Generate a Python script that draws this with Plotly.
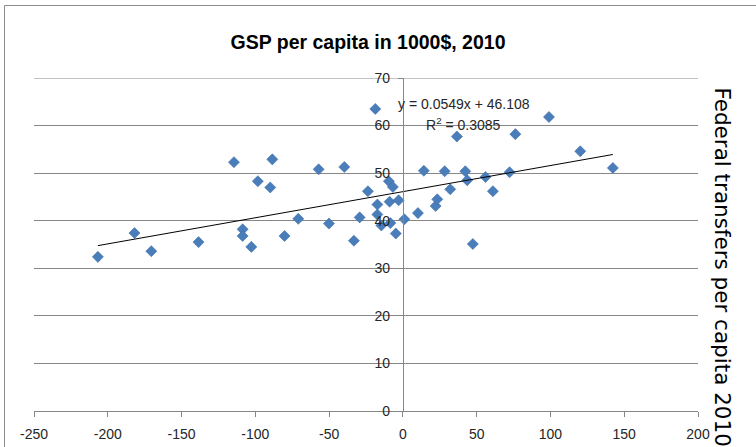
import plotly.graph_objects as go

# GSP per capita deviation (x) vs federal transfers per capita (y)
gsp = [-206.7, -181.9, -170.5, -138.5, -114.5, -108.6, -108.6, -102.7, -98.3, -89.9,
       -88.5, -80.2, -70.9, -57.1, -50.1, -39.7, -33.2, -29.3, -23.7, -18.7,
       -17.3, -17.3, -14.6, -9.5, -6.8, -9.0, -2.9, -8.5, -4.8, 1.0,
       10.2, 14.2, 22.2, 23.3, 28.3, 32.1, 36.6, 42.3, 43.6, 47.4,
       56.0, 61.0, 72.3, 76.2, 99.0, 120.2, 142.3]
transfers = [32.4, 37.4, 33.6, 35.5, 52.3, 38.2, 36.8, 34.5, 48.3, 47.0,
             52.9, 36.8, 40.4, 50.8, 39.4, 51.3, 35.8, 40.7, 46.2, 63.5,
             43.4, 41.3, 39.0, 48.3, 47.1, 44.0, 44.3, 39.5, 37.3, 40.3,
             41.6, 50.5, 43.1, 44.5, 50.4, 46.6, 57.7, 50.4, 48.5, 35.1,
             49.2, 46.2, 50.2, 58.2, 61.8, 54.6, 51.1]

slope = 0.0549
intercept = 46.108
r_squared = 0.3085

x_ticks = [-250, -200, -150, -100, -50, 0, 50, 100, 150, 200]
y_ticks = [0, 10, 20, 30, 40, 50, 60, 70]

title_text = "GSP per capita in 1000$, 2010"
ytitle_text = "Federal transfers per capita 2010"

X_RANGE = [-250, 200]
Y_RANGE = [0, 70]

W, H = 756, 447
ML, MR, MT, MB = 34, 58, 78, 36
PW, PH = W - ML - MR, H - MT - MB

def px_x(p):
    return (p - ML) / PW

def px_y(p):
    return (H - MB - p) / PH

FONT = "Liberation Sans, Arial, sans-serif"
GRID = "#878787"
TXT = "#262626"

fig = go.Figure()

fig.add_trace(go.Scatter(
    x=gsp, y=transfers, mode="markers",
    marker=dict(symbol="diamond", size=8.5, color="#4A7EBB",
                line=dict(width=0.6, color="#3F6FA8")),
    showlegend=False, hoverinfo="x+y"))

tx = [min(gsp), max(gsp)]
ty = [slope * v + intercept for v in tx]
fig.add_trace(go.Scatter(x=tx, y=ty, mode="lines",
                         line=dict(color="black", width=1),
                         showlegend=False, hoverinfo="skip"))

fig.update_layout(
    width=W, height=H,
    margin=dict(l=ML, r=MR, t=MT, b=MB, autoexpand=False),
    paper_bgcolor="white", plot_bgcolor="white",
    font=dict(family=FONT, size=14, color=TXT),
    title=dict(text="<b>" + title_text + "</b>", x=px_x(368), xanchor="center",
               xref="paper", y=1 - 42 / H, yanchor="middle",
               font=dict(family=FONT, size=19.5, color="black")),
    xaxis=dict(range=X_RANGE, tickvals=x_ticks, ticktext=[str(v) for v in x_ticks],
               showgrid=False, zeroline=False, automargin=False,
               showline=True, linecolor=GRID, linewidth=1,
               ticks="outside", ticklen=5, tickcolor=GRID,
               ticklabelstandoff=5,
               tickfont=dict(size=14, color=TXT), fixedrange=True),
    yaxis=dict(range=Y_RANGE, tickvals=y_ticks, ticktext=[str(v) for v in y_ticks],
               showgrid=True, gridcolor=GRID, automargin=False,
               gridwidth=1, zeroline=False, showline=True, linecolor=GRID,
               linewidth=1, ticks="outside", ticklen=5, tickcolor=GRID,
               anchor="free",
               position=(0 - X_RANGE[0]) / (X_RANGE[1] - X_RANGE[0]),
               ticklabelstandoff=5,
               tickfont=dict(size=14, color=TXT), fixedrange=True),
)

# top gridline at the highest y tick (plotly omits the edge gridline)
fig.add_shape(type="line", xref="paper", yref="y", layer="below",
              x0=0, x1=1, y0=y_ticks[-1], y1=y_ticks[-1],
              line=dict(color=GRID, width=1))

fig.add_annotation(text=f"y = {slope}x + {intercept}", xref="paper", yref="paper",
                   x=px_x(464), y=px_y(94), showarrow=False,
                   font=dict(family=FONT, size=14, color=TXT))
fig.add_annotation(text=f"R<sup>2</sup> = {r_squared}", xref="paper", yref="paper",
                   x=px_x(464), y=px_y(113), showarrow=False,
                   font=dict(family=FONT, size=14, color=TXT))

fig.add_annotation(text=ytitle_text, textangle=90, xref="paper", yref="paper",
                   x=px_x(737), y=px_y(267), showarrow=False,
                   font=dict(family="DejaVu Sans, sans-serif", size=21.5, color="black"))

# chart border (top and left visible)
fig.add_shape(type="line", xref="paper", yref="paper",
              x0=px_x(4.5), x1=px_x(760), y0=px_y(5.5), y1=px_y(5.5),
              line=dict(color="#8C8C8C", width=1))
fig.add_shape(type="line", xref="paper", yref="paper",
              x0=px_x(4.5), x1=px_x(4.5), y0=px_y(5.5), y1=px_y(450),
              line=dict(color="#8C8C8C", width=1))

fig.write_html("out.html", config={"displayModeBar": False},
               post_script="document.body.style.margin='0px';document.body.style.overflow='hidden';")
